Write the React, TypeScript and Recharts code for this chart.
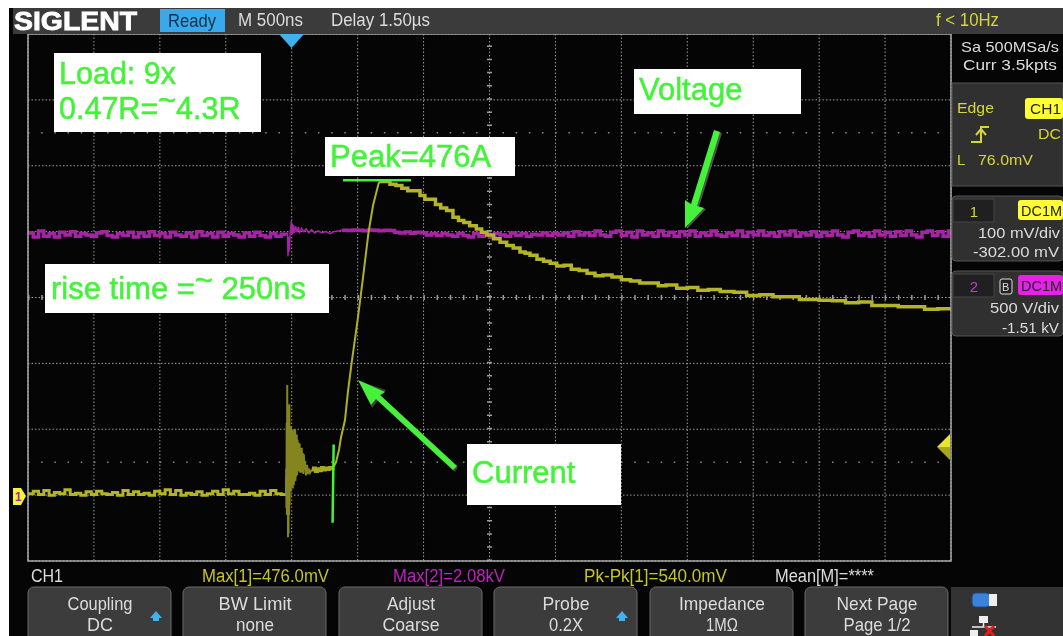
import * as React from "react";
import { CartesianGrid, Line, LineChart, ReferenceLine, XAxis, YAxis } from "recharts";

// Scope settings: 500 ns/div over 14 div, CH1 100 mV/div, CH2 500 V/div, 8 div tall
const timeTicks = [-2000, -1500, -1000, -500, 0, 500, 1000, 1500, 2000, 2500, 3000, 3500, 4000, 4500, 5000];
const currentTicks = [-100, 0, 100, 200, 300, 400, 500, 600, 700];

// CH1 (yellow), [ns, mV]
const currentBaseline = [
  [-2000, 2], [-1960, 6], [-1920, 1], [-1880, 7], [-1840, 0], [-1800, 4], [-1760, 2], [-1720, 8], [-1680, 1], [-1640, 3],
  [-1600, 0], [-1560, 5], [-1520, 1], [-1480, 6], [-1440, 2], [-1400, 1], [-1360, 4], [-1320, 0], [-1280, 7], [-1240, 1],
  [-1200, 5], [-1160, 1], [-1120, 3], [-1080, 0], [-1040, 6], [-1000, 2], [-960, 8], [-920, 1], [-880, 7], [-840, 0],
  [-800, 3], [-760, 1], [-720, 5], [-680, 0], [-640, 2], [-600, 6], [-560, 1], [-520, 8], [-480, 2], [-440, 6],
  [-400, 1], [-360, 1], [-320, 3], [-280, 0], [-240, 6], [-200, 1], [-160, 7], [-120, 2], [-80, 1], [-44, 2],
];
const currentBurst = [
  [-44, 2], [-42, 40], [-40, -20], [-38, 110], [-36, -30], [-34, 167], [-32, -10], [-30, 95], [-28, -64], [-26, 120], [-24, -58], [-22, 110], [-20, -30],
  [-18, 138], [-16, -15], [-14, 105], [-12, 15], [-10, 95], [-8, 5], [-6, 105], [-4, 20], [-2, 90], [0, 12],
  [2, 100], [4, 20], [6, 95], [8, 10], [10, 90], [12, 18], [14, 95], [16, 15], [18, 100], [20, 20],
  [22, 95], [24, 25], [26, 100], [28, 22], [30, 90], [32, 28], [34, 85], [36, 30], [38, 92], [40, 30],
  [44, 84], [48, 38], [52, 80], [56, 36], [60, 78], [64, 34], [68, 70], [72, 34], [76, 72], [80, 34],
  [84, 64], [88, 32], [92, 62], [96, 38], [100, 52], [108, 30], [116, 46], [124, 32], [132, 40], [140, 34], [150, 38],
];
const currentFlat = [
  [150, 38], [165, 41], [180, 36], [195, 40], [210, 37], [225, 42], [240, 38], [255, 41], [270, 39], [285, 42], [300, 40], [313, 41],
];
const currentRise = [
  [313, 41], [336, 50], [360, 70], [374, 88], [404, 114], [427, 158], [454, 200], [500, 266], [540, 329], [582, 398], [617, 440],
  [659, 473], [669, 476],
];
const currentDecay = [
  [669, 476], [700, 476], [745, 472], [790, 470], [835, 466], [880, 462], [925, 462], [973, 455], [1010, 449], [1050, 449], [1090, 441],
  [1130, 436], [1175, 432], [1223, 422], [1265, 417], [1305, 414], [1350, 409], [1400, 404], [1440, 399], [1481, 395], [1530, 389],
  [1580, 384], [1630, 379], [1680, 375], [1731, 369], [1770, 367], [1807, 364], [1860, 358], [1910, 355], [1960, 352], [2010, 348],
  [2065, 349], [2120, 343], [2180, 341], [2240, 337], [2300, 333], [2360, 334], [2429, 331], [2500, 327], [2570, 325], [2640, 322],
  [2710, 322], [2780, 318], [2839, 319], [2920, 314], [3000, 315], [3080, 311], [3160, 312], [3250, 309], [3354, 308], [3450, 303],
  [3550, 304], [3650, 301], [3750, 301], [3850, 297], [3999, 296], [4100, 295], [4200, 292], [4300, 293], [4400, 288], [4499, 288],
  [4600, 286], [4700, 286], [4800, 282], [4900, 283], [5000, 281],
];

// CH2 (magenta), [ns, V]
const voltageBaseline = [
  [-2000, 1990], [-1960, 1960], [-1920, 2005], [-1880, 1965], [-1840, 1985], [-1800, 1960], [-1760, 1995], [-1720, 1975], [-1680, 2000], [-1640, 1965],
  [-1600, 1985], [-1560, 1975], [-1520, 1965], [-1480, 1990], [-1440, 2000], [-1400, 1970], [-1360, 1960], [-1320, 1985], [-1280, 1970], [-1240, 1995],
  [-1200, 1960], [-1160, 1990], [-1120, 1965], [-1080, 2000], [-1040, 1970], [-1000, 1985], [-960, 1960], [-920, 1995], [-880, 1975], [-840, 1965],
  [-800, 1990], [-760, 1960], [-720, 2000], [-680, 1970], [-640, 1985], [-600, 1960], [-560, 1995], [-520, 1965], [-480, 1985], [-440, 1975],
  [-400, 1960], [-360, 1990], [-320, 1965], [-280, 1995], [-240, 1970], [-200, 1960], [-160, 1985], [-120, 1965], [-80, 1980], [-44, 1975],
];
const voltageBurst = [
  [-44, 1975], [-32, 1985], [-28, 1813], [-24, 1960], [-18, 1850], [-12, 1990], [-6, 2040], [-3, 2079], [0, 1990], [4, 2060], [8, 1980],
  [14, 2050], [20, 1990], [30, 2040], [40, 1995], [50, 2035], [60, 1995], [75, 2025], [90, 2000], [110, 2020], [130, 1990],
  [150, 2015], [175, 1990], [200, 2005], [230, 1990], [260, 2000], [290, 1985], [320, 2000], [350, 2005], [380, 2010],
];
const voltageSettled = [
  [380, 2010], [420, 2008], [460, 2012], [500, 2010], [540, 2007], [580, 2012], [620, 2010], [660, 2007], [700, 2011], [745, 2008],
  [780, 1995], [820, 1990], [860, 1998], [900, 1988], [940, 1995], [980, 1992], [1020, 1975], [1060, 1985], [1100, 1970], [1140, 1985],
  [1180, 1975], [1220, 1965], [1260, 1985], [1300, 1970], [1340, 1960], [1380, 1985], [1420, 1965], [1460, 1980], [1500, 1960], [1540, 1985],
  [1580, 1975], [1620, 1965], [1660, 1990], [1700, 1970], [1740, 1985], [1780, 1965], [1820, 1980], [1860, 1975], [1900, 1990], [1940, 1970],
  [1980, 1985], [2020, 1975], [2060, 1990], [2100, 1965], [2140, 2000], [2180, 1975], [2220, 1990], [2260, 1970], [2300, 2005], [2340, 1975],
  [2380, 1965], [2420, 1995], [2460, 2005], [2500, 1970], [2540, 1995], [2580, 1960], [2620, 2005], [2660, 1975], [2700, 1990], [2740, 1965],
  [2780, 2005], [2820, 1970], [2860, 1995], [2900, 1965], [2940, 2000], [2980, 1975], [3020, 2005], [3060, 1965], [3100, 1990], [3140, 1970],
  [3180, 2005], [3220, 1975], [3260, 1965], [3300, 1990], [3340, 1970], [3380, 2005], [3420, 1965], [3460, 1995], [3500, 1975], [3540, 2005],
  [3580, 1970], [3620, 1990], [3660, 1965], [3700, 2000], [3740, 1975], [3780, 2005], [3820, 1965], [3860, 1990], [3900, 1975], [3940, 2000],
  [3980, 1965], [4020, 1995], [4060, 1970], [4100, 2005], [4140, 1975], [4180, 1960], [4220, 1995], [4260, 2005], [4300, 1970], [4340, 1990],
  [4380, 1965], [4420, 2005], [4460, 1975], [4500, 1995], [4540, 1965], [4580, 2000], [4620, 1970], [4660, 2005], [4700, 1975], [4740, 1960],
  [4780, 1995], [4820, 2005], [4860, 1970], [4900, 2000], [4940, 1965], [4980, 2005], [5000, 1975],
];

const softKeys = [
  { x: 28, top: "Coupling", topW: 65, bottom: "DC", bottomW: 26, arrow: true },
  { x: 183, top: "BW Limit", topW: 73, bottom: "none", bottomW: 38, arrow: false },
  { x: 339, top: "Adjust", topW: 48, bottom: "Coarse", bottomW: 57, arrow: false },
  { x: 494, top: "Probe", topW: 47, bottom: "0.2X", bottomW: 34, arrow: true },
  { x: 650, top: "Impedance", topW: 86, bottom: "1MΩ", bottomW: 32, arrow: false },
  { x: 805, top: "Next Page", topW: 81, bottom: "Page 1/2", bottomW: 67, arrow: false },
];

const toPoints = (rows: number[][]) => rows.map(([t, v]) => ({ t, v }));

const UI_FONT = '"Liberation Sans", Arial, sans-serif';
const GREEN = "#45f23a";
const SCOPE_YELLOW = "#d6d63a";
const SCOPE_WHITE = "#dcdcdc";

// Text squeezed to the width measured on the screenshot
function Label(props: {
  x: number;
  y: number;
  w?: number;
  size?: number;
  fill?: string;
  anchor?: "start" | "middle" | "end";
  weight?: number;
  bold?: number;
  children: React.ReactNode;
}) {
  const { x, y, w, size = 17, fill = SCOPE_WHITE, anchor = "start", weight = 400, bold = 0, children } = props;
  return (
    <text
      x={x}
      y={y}
      fontFamily={UI_FONT}
      fontSize={size}
      fill={fill}
      stroke={bold ? fill : undefined}
      strokeWidth={bold || undefined}
      fontWeight={weight}
      textAnchor={anchor}
      textLength={w}
      lengthAdjust={w ? "spacingAndGlyphs" : undefined}
    >
      {children}
    </text>
  );
}

function NoteBox({ x, y, w, h }: { x: number; y: number; w: number; h: number }) {
  return <rect x={x} y={y} width={w} height={h} fill="#ffffff" />;
}

function Chrome() {
  return (
    <svg width={1063} height={636} style={{ position: "absolute", left: 0, top: 0 }}>
      {/* screen frame */}
      <rect x={28} y={34} width={923} height={527} fill="none" stroke="#a8a8a8" strokeWidth={1.5} />

      {/* header */}
      <rect x={13} y={8} width={1050} height={26} fill="#3b3b3b" />
      <Label x={14} y={30} w={123} size={25} fill="#ffffff" weight={700} bold={0.8}>SIGLENT</Label>
      <rect x={160} y={9} width={65} height={23} fill="#39a9ec" />
      <Label x={168} y={27} w={48} size={19} fill="#12304a">Ready</Label>
      <Label x={238} y={26} w={65} size={19}>M 500ns</Label>
      <Label x={331} y={26} w={99} size={19}>Delay 1.50µs</Label>
      <Label x={936} y={26} w={63} size={19} fill={SCOPE_YELLOW}>f &lt; 10Hz</Label>

      {/* markers on the graticule */}
      <polygon points="279,34 304,34 291.5,48" fill="#3fb2f2" />
      <polygon points="937,447 950,434 950,447" fill="#e6e62c" />
      <polygon points="937,447 950,447 950,460" fill="#a8a820" />
      <polygon points="13,488 21,488 26,496 21,505 13,505" fill="#f4f43a" />
      <Label x={15} y={501} size={12} fill="#b020b0" weight={700}>1</Label>

      {/* right column */}
      <Label x={961} y={52} w={98} size={15}>Sa 500MSa/s</Label>
      <Label x={963} y={70} w={94} size={15}>Curr 3.5kpts</Label>

      <rect x={952} y={83} width={111} height={103} fill="#303030" stroke="#555" />
      <Label x={957} y={113} w={37} size={15} fill={SCOPE_YELLOW}>Edge</Label>
      <rect x={1025} y={98} width={38} height={21} rx={3} fill="#ffff33" />
      <Label x={1030} y={114} w={31} size={15} fill="#222">CH1</Label>
      <path d="M971 142 H981 V127 H989 M976 135 L981 129 L986 135" fill="none" stroke={SCOPE_YELLOW} strokeWidth={2} />
      <Label x={1038} y={139} w={23} size={15} fill={SCOPE_YELLOW}>DC</Label>
      <Label x={957} y={165} size={15} fill={SCOPE_YELLOW}>L</Label>
      <Label x={978} y={165} w={55} size={15} fill={SCOPE_YELLOW}>76.0mV</Label>

      <rect x={952} y={196} width={111} height={65} rx={4} fill="#303030" stroke="#555" />
      <rect x={953} y={199} width={41} height={23} fill="#202020" stroke="#444" />
      <Label x={974} y={217} size={15} fill={SCOPE_YELLOW} anchor="middle">1</Label>
      <rect x={1018} y={200} width={45} height={20} rx={3} fill="#ffff33" />
      <Label x={1021} y={216} w={41} size={15} fill="#222">DC1M</Label>
      <Label x={978} y={238} w={82} size={15}>100 mV/div</Label>
      <Label x={973} y={257} w={86} size={15}>-302.00 mV</Label>

      <rect x={952} y={271} width={111} height={65} rx={4} fill="#303030" stroke="#555" />
      <rect x={953} y={274} width={41} height={23} fill="#202020" stroke="#444" />
      <Label x={974} y={292} size={15} fill="#c23cc2" anchor="middle">2</Label>
      <rect x={1000} y={279} width={12} height={15} rx={2} fill="#222" stroke="#ddd" />
      <Label x={1002} y={291} size={11} fill="#ddd">B</Label>
      <rect x={1018} y={275} width={45} height={20} rx={3} fill="#e622e6" />
      <Label x={1021} y={291} w={41} size={15} fill="#222">DC1M</Label>
      <Label x={990} y={313} w={69} size={15}>500 V/div</Label>
      <Label x={1002} y={333} w={57} size={15}>-1.51 kV</Label>

      {/* measurements */}
      <Label x={31} y={582} w={32} size={18}>CH1</Label>
      <Label x={202} y={582} w={127} size={18} fill="#c6c620">Max[1]=476.0mV</Label>
      <Label x={393} y={582} w={112} size={18} fill="#c020c0">Max[2]=2.08kV</Label>
      <Label x={584} y={582} w={143} size={18} fill="#c6c620">Pk-Pk[1]=540.0mV</Label>
      <Label x={775} y={582} w={99} size={18}>Mean[M]=****</Label>

      {/* soft keys */}
      {softKeys.map((key) => (
        <g key={key.top}>
          <rect x={key.x} y={587} width={143} height={60} rx={6} fill="#3c3c3c" stroke="#6a6a6a" />
          <Label x={key.x + 72} y={610} w={key.topW} size={19} anchor="middle">{key.top}</Label>
          <Label x={key.x + 72} y={631} w={key.bottomW} size={19} anchor="middle">{key.bottom}</Label>
          {key.arrow && <polygon points={`${key.x + 122},618 ${key.x + 134},618 ${key.x + 128},611`} fill="#3fb2f2" />}
          {key.arrow && <rect x={key.x + 125} y={618} width={6} height={3} fill="#3fb2f2" />}
        </g>
      ))}
      <rect x={951} y={587} width={112} height={49} fill="#333" />
      <rect x={972} y={593} width={18} height={14} rx={4} fill="#3b82d8" stroke="#1a4a88" />
      <rect x={989} y={594} width={8} height={12} fill="#eee" />
      <rect x={979} y={616} width={9} height={7} fill="#eee" />
      <path d="M983.5 623 V627 M972 627 H996" stroke="#eee" strokeWidth={1.5} />
      <rect x={970} y={630} width={8} height={6} fill="#eee" />
      <path d="M985 626 L994 636 M994 626 L985 636" stroke="#e02020" strokeWidth={3} />

      {/* annotations pasted on top of the screenshot */}
      <NoteBox x={54} y={53} w={207} h={79} />
      <Label x={59} y={84} size={30.5} fill={GREEN} bold={0.5}>Load: 9x</Label>
      <text x={59} y={119} fontFamily={UI_FONT} fontSize={30.5} fill={GREEN} stroke={GREEN} strokeWidth={0.5}>
        0.47R=<tspan dy={-8}>~</tspan><tspan dy={8}>4.3R</tspan>
      </text>

      <NoteBox x={325} y={137} w={190} h={39} />
      <Label x={330} y={167} size={31} fill={GREEN} bold={0.5}>Peak=476A</Label>

      <NoteBox x={45} y={264} w={284} h={49} />
      <text x={51} y={299} fontFamily={UI_FONT} fontSize={31} fill={GREEN} stroke={GREEN} strokeWidth={0.5}>
        rise time =<tspan dy={-8}>~</tspan><tspan dy={8}> 250ns</tspan>
      </text>

      <NoteBox x={634} y={69} w={167} h={45} />
      <Label x={639} y={100} size={31} fill={GREEN} bold={0.5}>Voltage</Label>

      <NoteBox x={467} y={444} w={154} h={61} />
      <Label x={472} y={483} size={31} fill={GREEN} bold={0.5}>Current</Label>

      {/* arrows */}
      <polygon points="722,133 699,207 706,209 687,229 693,207 716,131" fill="#666" opacity={0.8} />
      <polygon points="720,132 697,206 704,208 685,228 685,200 691,204 714,130" fill={GREEN} />
      <polygon points="455,472 378,401 372,408 359,381 386,390 381,396 458,467" fill="#555" opacity={0.7} />
      <polygon points="453,470 376,399 371,405 358,380 385,392 380,395 457,466" fill={GREEN} />
    </svg>
  );
}

export default function App() {
  return (
    <div style={{ position: "absolute", left: 0, top: 0, width: 1063, height: 636, background: "#ffffff", overflow: "hidden", filter: "blur(0.35px)" }}>
      <div style={{ position: "absolute", left: 9, top: 8, width: 1054, height: 628, background: "#050505" }} />
      <div style={{ position: "absolute", left: 0, top: 0 }}>
        <LineChart width={1063} height={636} margin={{ top: 34, right: 112, bottom: 75, left: 28 }}>
          <CartesianGrid yAxisId="current" stroke="#9c9c9c" strokeDasharray="1.5 2" />
          <XAxis hide type="number" dataKey="t" domain={[-2000, 5000]} ticks={timeTicks} allowDataOverflow />
          <YAxis hide yAxisId="current" type="number" domain={[-100, 700]} ticks={currentTicks} allowDataOverflow />
          <YAxis hide yAxisId="voltage" type="number" domain={[-500, 3500]} allowDataOverflow />

          {/* centre cross ticks and the two dotted rows */}
          <ReferenceLine yAxisId="current" y={300} stroke="#9c9c9c" strokeWidth={5} strokeDasharray="1.5 11.68" />
          <ReferenceLine yAxisId="current" x={1500} stroke="#9c9c9c" strokeWidth={5} strokeDasharray="1.5 11.68" />
          <ReferenceLine yAxisId="current" y={550} stroke="#8a8a8a" strokeWidth={1.5} strokeDasharray="1.5 11.68" />
          <ReferenceLine yAxisId="current" y={50} stroke="#8a8a8a" strokeWidth={1.5} strokeDasharray="1.5 11.68" />

          <Line yAxisId="voltage" data={toPoints(voltageBaseline)} dataKey="v" type="stepAfter" stroke="#a424a4" strokeWidth={3.5} dot={false} isAnimationActive={false} />
          <Line yAxisId="voltage" data={toPoints(voltageBurst)} dataKey="v" type="linear" stroke="#a424a4" strokeWidth={1.5} dot={false} isAnimationActive={false} />
          <Line yAxisId="voltage" data={toPoints(voltageSettled)} dataKey="v" type="stepAfter" stroke="#a424a4" strokeWidth={3.5} dot={false} isAnimationActive={false} />

          <Line yAxisId="current" data={toPoints(currentBaseline)} dataKey="v" type="stepAfter" stroke="#b4b428" strokeWidth={3} dot={false} isAnimationActive={false} />
          <Line yAxisId="current" data={toPoints(currentBurst)} dataKey="v" type="linear" stroke="#85851f" strokeWidth={2} dot={false} isAnimationActive={false} />
          <Line yAxisId="current" data={toPoints(currentFlat)} dataKey="v" type="stepAfter" stroke="#a8a824" strokeWidth={3} dot={false} isAnimationActive={false} />
          <Line yAxisId="current" data={toPoints(currentRise)} dataKey="v" type="linear" stroke="#b0b028" strokeWidth={2} dot={false} isAnimationActive={false} />
          <Line yAxisId="current" data={toPoints(currentDecay)} dataKey="v" type="stepAfter" stroke="#b4b428" strokeWidth={3.5} dot={false} isAnimationActive={false} />

          {/* green hand-drawn markers: peak level and start of the rise */}
          <ReferenceLine yAxisId="current" segment={[{ x: 389, y: 478 }, { x: 905, y: 478 }]} stroke={GREEN} strokeWidth={2.5} />
          <ReferenceLine yAxisId="current" segment={[{ x: 318, y: 77 }, { x: 310, y: -42 }]} stroke={GREEN} strokeWidth={2.5} />
        </LineChart>
      </div>
      <Chrome />
    </div>
  );
}
